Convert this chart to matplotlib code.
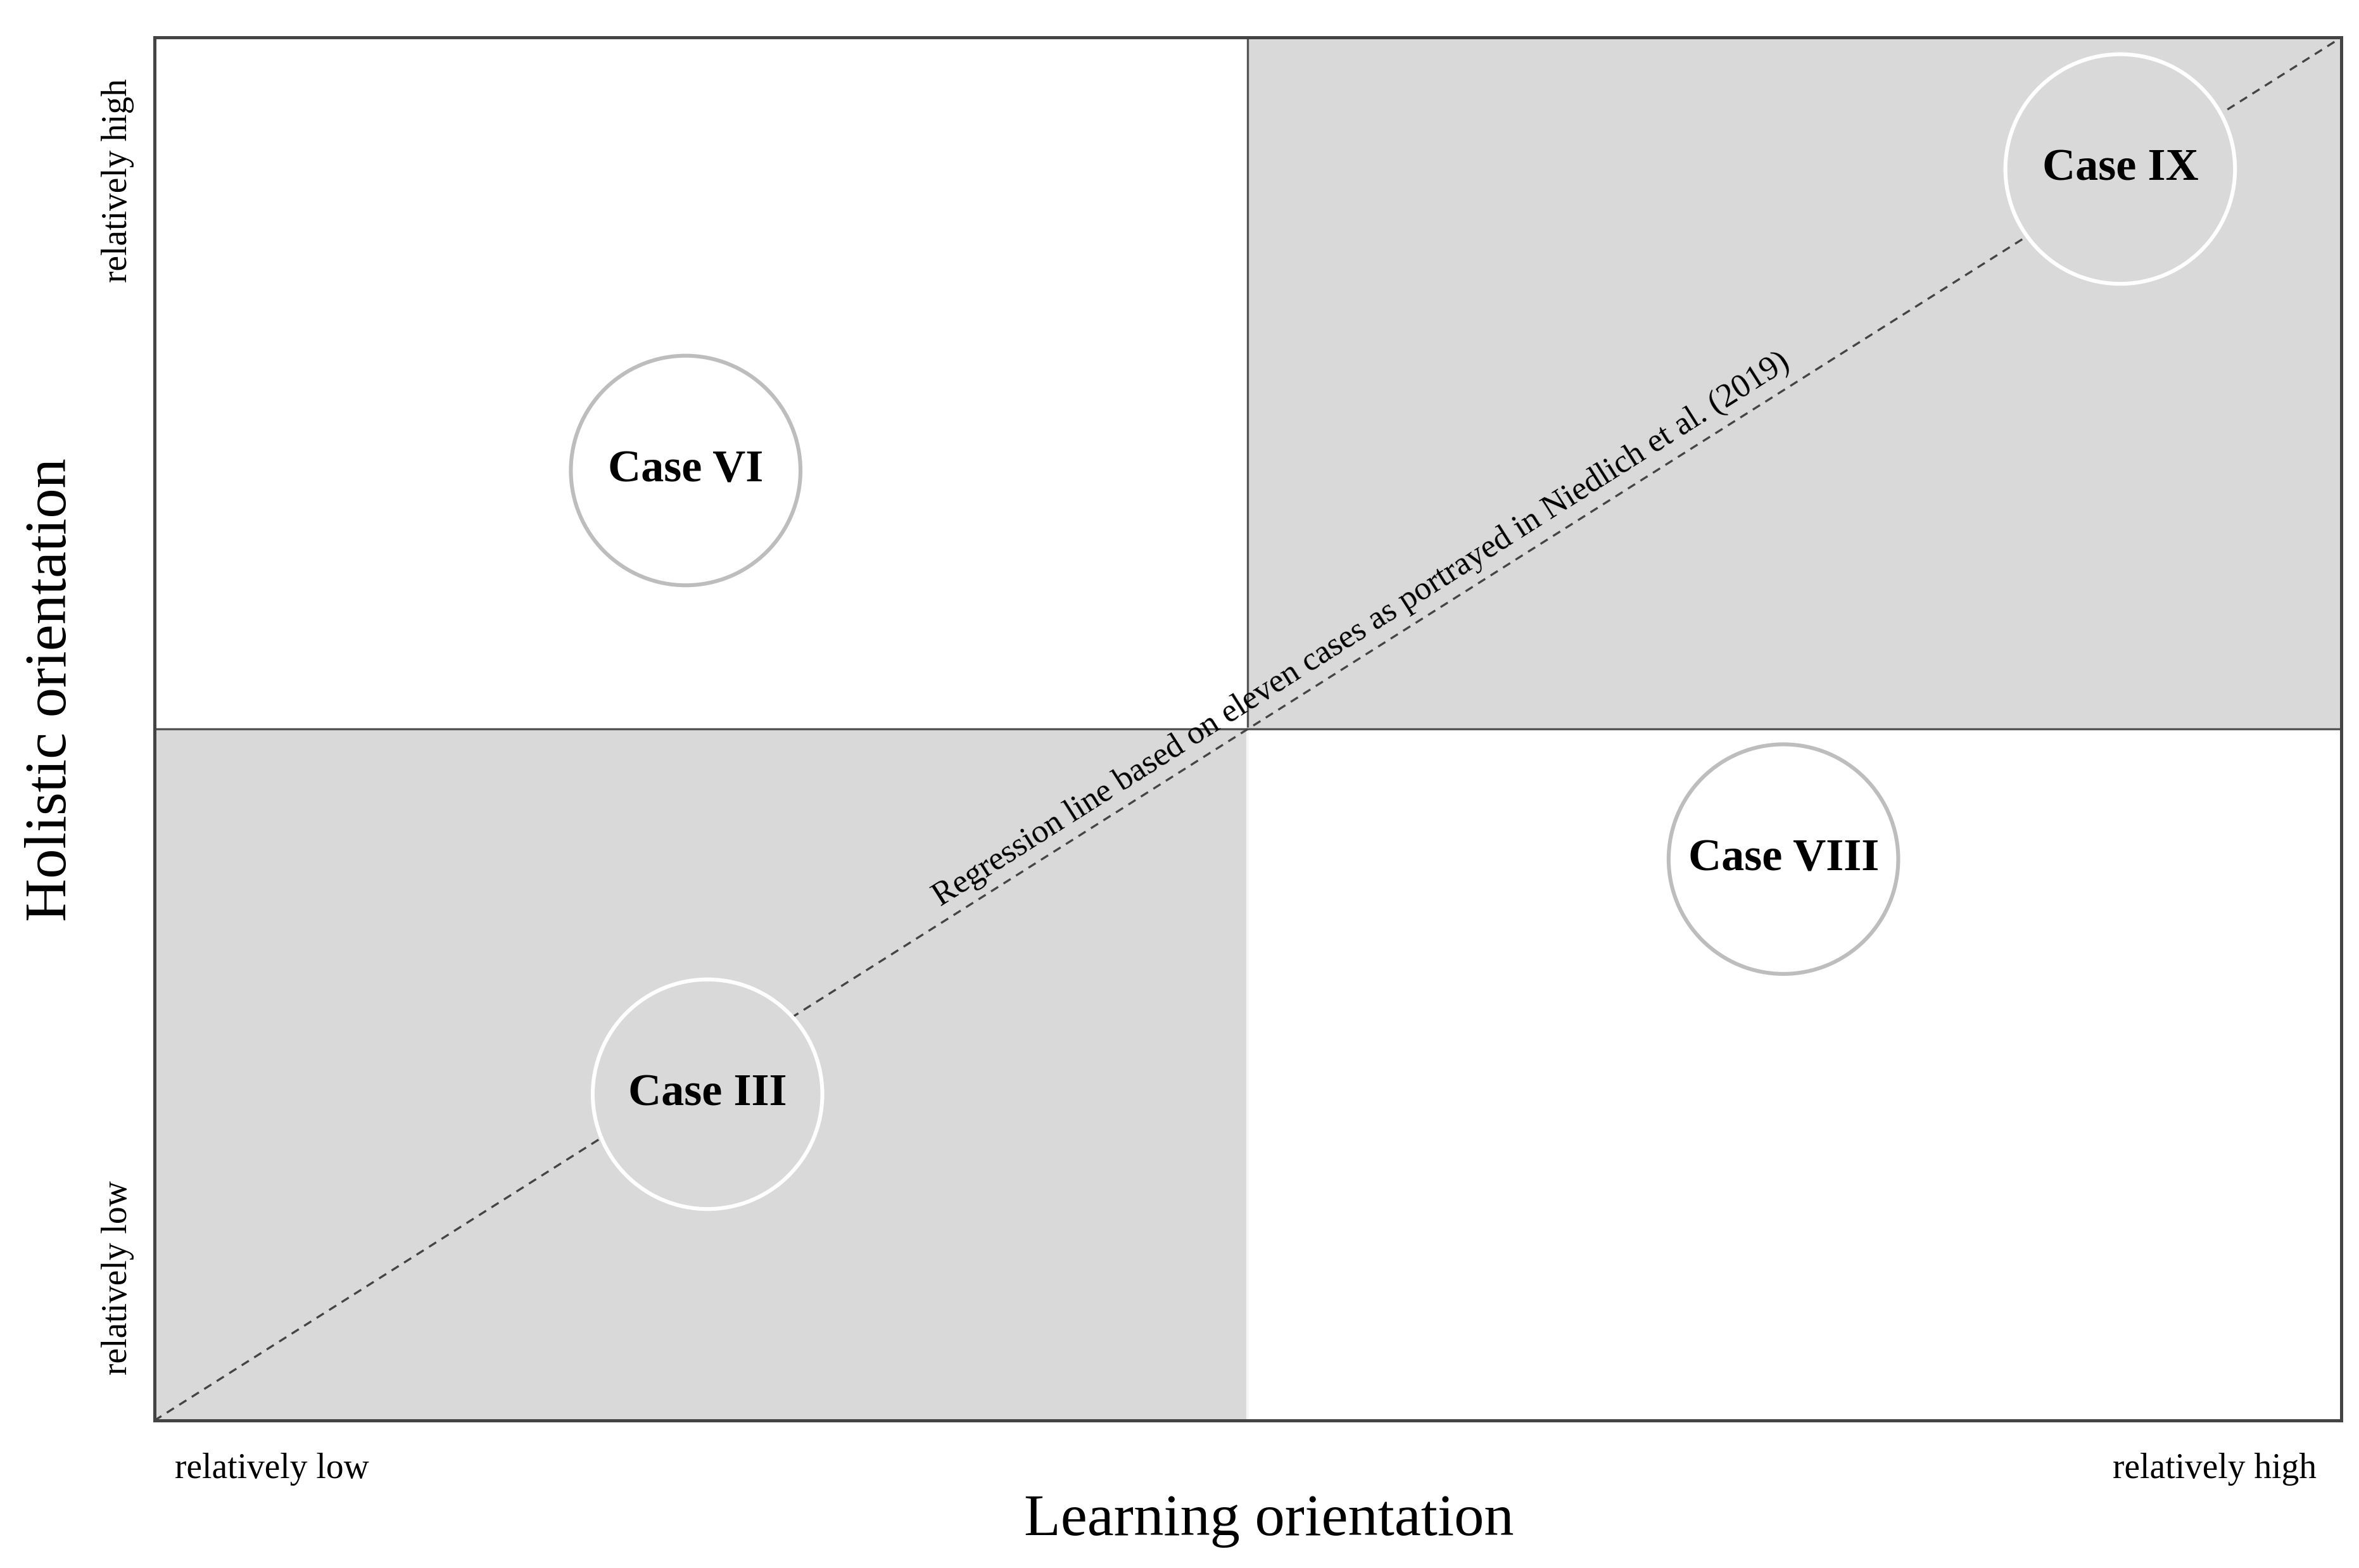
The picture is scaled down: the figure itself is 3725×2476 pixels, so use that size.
import matplotlib
matplotlib.use("Agg")
import matplotlib.pyplot as plt
from matplotlib.patches import Ellipse, Rectangle

cases = ["Case VI", "Case IX", "Case VIII", "Case III"]
case_x = [0.243, 0.899, 0.745, 0.253]
case_y = [0.687, 0.905, 0.406, 0.236]
edge = ["#bdbdbd", "#ffffff", "#bdbdbd", "#ffffff"]
reg_x = [0, 1]
reg_y = [0, 1]

plt.rcParams['font.family'] = ['Liberation Serif', 'DejaVu Serif']
fig = plt.figure(figsize=(18.625, 12.38), dpi=200)
ax = fig.add_axes([0.0654, 0.094, 0.927, 0.882])
ax.set_xlim(0, 1); ax.set_ylim(0, 1)
gray = "#d9d9d9"
ax.add_patch(Rectangle((0, 0), 0.5, 0.5, color=gray, zorder=0, lw=0))
ax.add_patch(Rectangle((0.5, 0.5), 0.5, 0.5, color=gray, zorder=0, lw=0))
ax.plot([0.5, 0.5], [0.5, 1], color="#555555", lw=1.2, zorder=1)
ax.plot([0.5, 0.5], [0, 0.5], color="#f5f5f5", lw=1.5, zorder=1)
ax.plot([0, 1], [0.5, 0.5], color="#555555", lw=1.2, zorder=1)
ax.plot(reg_x, reg_y, ls=(0, (4, 3)), color="#444444", lw=1.2, zorder=2)
for n, x, y, e in zip(cases, case_x, case_y, edge):
    ax.add_patch(Ellipse((x, y), 0.105, 0.166, facecolor=gray if e == "#ffffff" else "white",
                         edgecolor=e, lw=2.2, zorder=3))
    ax.text(x, y, n, ha="center", va="center", fontsize=26, fontweight="bold", zorder=4)
ax.text(0.552, 0.572, "Regression line based on eleven cases as portrayed in Niedlich et al. (2019)",
        rotation=32.4, rotation_mode="anchor", ha="center", va="center", fontsize=19, zorder=4)
for s in ax.spines.values():
    s.set_color("#444444"); s.set_linewidth(1.8)
ax.set_xticks([]); ax.set_yticks([])
fig.text(0.074, 0.063, "relatively low", fontsize=20, ha="left", va="center")
fig.text(0.982, 0.063, "relatively high", fontsize=20, ha="right", va="center")
fig.text(0.538, 0.03, "Learning orientation", fontsize=34, ha="center", va="center")
fig.text(0.05, 0.885, "relatively high", fontsize=20, rotation=90, ha="center", va="center")
fig.text(0.05, 0.185, "relatively low", fontsize=20, rotation=90, ha="center", va="center")
fig.text(0.022, 0.56, "Holistic orientation", fontsize=34, rotation=90, ha="center", va="center")
fig.savefig("out.png", dpi=200, facecolor="white")
